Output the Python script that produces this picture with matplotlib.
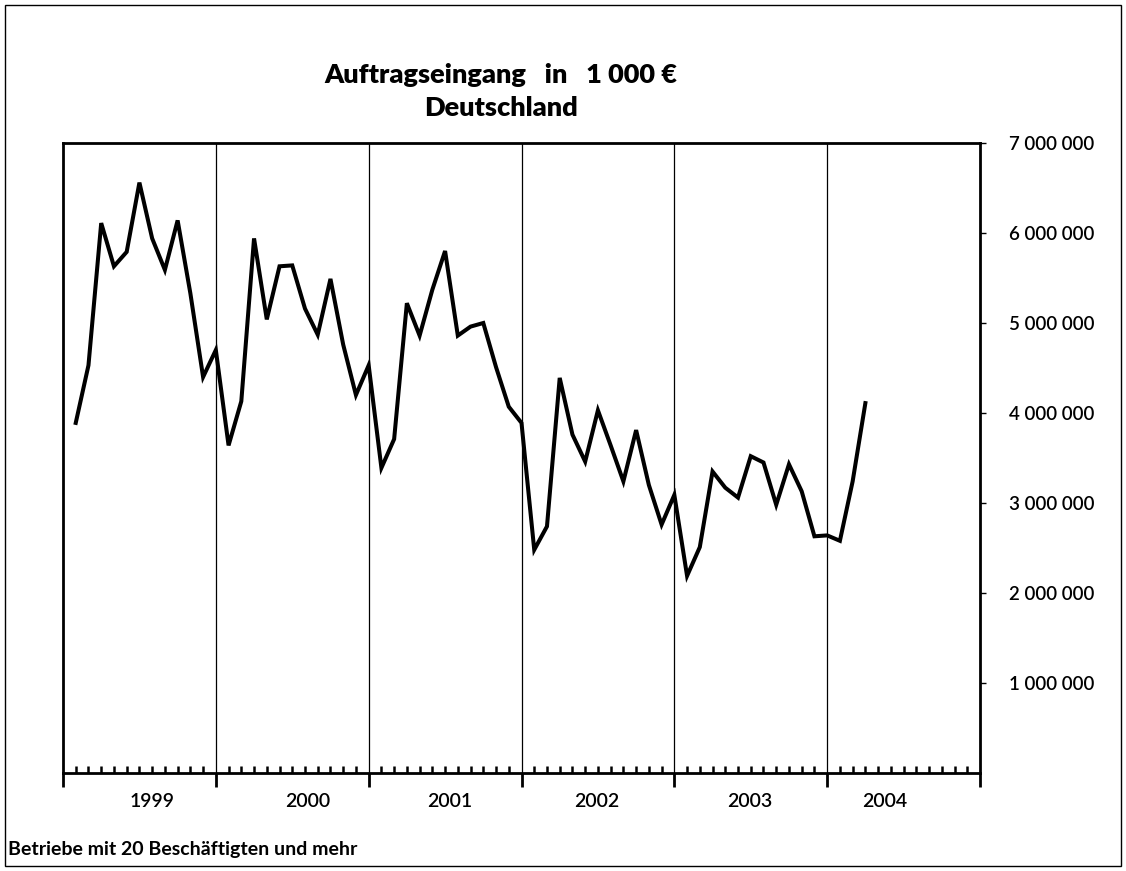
import numpy as np
import matplotlib.pyplot as plt
from matplotlib.ticker import FixedLocator, FuncFormatter
from matplotlib.patches import Rectangle

#monthly values, Jan 1999 to Mar 2004 (in 1 000 EUR)
months = np.arange(1, 64)
orders = [3890000, 4530000, 6110000, 5630000, 5790000, 6560000, 5940000, 5590000, 6140000, 5330000, 4400000, 4700000,
          3640000, 4130000, 5940000, 5040000, 5630000, 5640000, 5160000, 4870000, 5490000, 4760000, 4200000, 4530000,
          3390000, 3710000, 5220000, 4860000, 5370000, 5800000, 4860000, 4960000, 5000000, 4510000, 4070000, 3890000,
          2480000, 2740000, 4390000, 3760000, 3460000, 4030000, 3640000, 3240000, 3810000, 3200000, 2760000, 3090000,
          2190000, 2510000, 3350000, 3170000, 3060000, 3520000, 3450000, 2980000, 3430000, 3130000, 2630000, 2640000,
          2580000, 3240000, 4110000]
years = ['1999', '2000', '2001', '2002', '2003', '2004']
year_label_pos = [7.0, 19.2, 30.4, 41.9, 53.9, 64.5]
yticks = [1000000, 2000000, 3000000, 4000000, 5000000, 6000000, 7000000]

plt.rcParams['font.family'] = ['Lato', 'DejaVu Sans']

fig = plt.figure(figsize=(11.26, 8.71), dpi=100)
ax = fig.add_axes([63/1126, 98/871, (980-63)/1126, (773-143)/871])

ax.plot(months, orders, color='black', linewidth=2.9, solid_joinstyle='miter')

ax.set_xlim(0, 72)
ax.set_ylim(0, 7000000)

#year separators
for x in range(12, 72, 12):
    ax.axvline(x, color='black', linewidth=0.9)

#x axis: months as inner minor ticks, years as outer major ticks
ax.xaxis.set_major_locator(FixedLocator(range(0, 73, 12)))
ax.xaxis.set_minor_locator(FixedLocator([m for m in range(73) if m % 12 != 0]))
ax.tick_params(axis='x', which='major', direction='out', length=10, width=2, labelbottom=False)
ax.tick_params(axis='x', which='minor', direction='in', length=5, width=1.8)
for pos, yr in zip(year_label_pos, years):
    ax.text(pos, -0.045, yr, transform=ax.get_xaxis_transform(), ha='center', va='center',
            fontsize=14, fontweight='semibold')

#y axis on the right
ax.yaxis.tick_right()
ax.yaxis.set_major_locator(FixedLocator(yticks))
ax.yaxis.set_major_formatter(FuncFormatter(lambda v, p: '{:,.0f}'.format(v).replace(',', ' ')))
ax.tick_params(axis='y', which='major', direction='out', length=4, width=1, pad=17, labelsize=13.5)
for lab in ax.get_yticklabels():
    lab.set_fontweight('semibold')

for s in ax.spines.values():
    s.set_linewidth(2)

fig.text(0.445, 0.914, 'Auftragseingang   in   1 000 €', ha='center', va='center', fontsize=19.5, fontweight='heavy')
fig.text(0.445, 0.876, 'Deutschland', ha='center', va='center', fontsize=19.5, fontweight='heavy')
fig.text(8/1126, 1 - 849/871, 'Betriebe mit 20 Beschäftigten und mehr', ha='left', va='center',
         fontsize=14, fontweight='bold')

#outer frame
fig.patches.append(Rectangle((5/1126, 5/871), 1 - 10/1126, 1 - 10/871, transform=fig.transFigure,
                             fill=False, edgecolor='black', linewidth=1))

fig.savefig('out.png', dpi=100, facecolor='w')
